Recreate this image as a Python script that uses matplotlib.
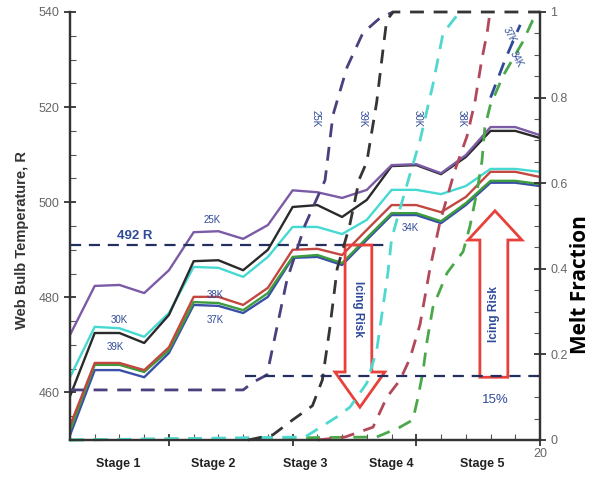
import matplotlib.pyplot as plt
from matplotlib.patches import Polygon

plt.rcParams['font.family'] = ['Liberation Sans', 'DejaVu Sans']

# wet bulb temperature (R) per station, one series per line colour
station = list(range(1, 21))
wb_purple = [472.1, 482.4, 482.6, 480.9, 485.7, 493.7, 493.9, 492.3, 495.2, 502.5,
             502.1, 500.9, 502.6, 507.8, 508.0, 506.1, 509.9, 515.8, 515.8, 514.1]
wb_black = [459.2, 472.5, 472.5, 470.4, 476.3, 487.6, 487.8, 485.7, 490.0, 499.0,
            499.4, 496.9, 500.5, 507.6, 507.8, 505.9, 509.5, 515.0, 515.0, 513.5]
wb_cyan = [463.2, 473.8, 473.5, 471.7, 476.7, 486.4, 486.2, 484.3, 488.5, 494.8,
           494.8, 493.3, 496.3, 502.6, 502.6, 501.7, 503.4, 507.0, 507.0, 506.4]
wb_red = [453.0, 466.2, 466.2, 464.7, 469.5, 480.1, 480.1, 478.4, 482.0, 490.0,
          490.2, 488.9, 494.2, 499.4, 499.4, 497.9, 501.1, 506.4, 506.4, 505.3]
wb_green = [452.0, 465.8, 465.8, 464.3, 468.9, 479.0, 478.8, 477.3, 480.9, 488.5,
            488.9, 487.2, 492.5, 497.7, 497.7, 496.0, 499.8, 504.5, 504.5, 503.8]
wb_blue = [451.0, 464.7, 464.7, 463.2, 468.3, 478.4, 478.2, 476.7, 480.1, 488.3,
           488.5, 486.8, 492.1, 497.3, 497.3, 495.6, 499.4, 504.1, 504.1, 503.4]

# melt fraction curves (dashed)
mf_purple_x = [1, 8.0, 8.4, 8.96, 9.77, 10.5, 11.31, 11.63, 12.2, 12.84, 13.53, 14.06]
mf_purple = [0.117, 0.117, 0.135, 0.152, 0.374, 0.502, 0.607, 0.759, 0.871, 0.951, 0.986, 1.0]
mf_black_x = [8.2, 9.2, 10.0, 10.8, 11.2, 11.5, 11.8, 12.3, 12.7, 13.0, 13.4, 13.65, 13.8, 14.06, 20]
mf_black = [0.0, 0.012, 0.047, 0.08, 0.14, 0.26, 0.40, 0.50, 0.61, 0.65, 0.79, 0.91, 0.98, 1.0, 1.0]
mf_cyan_x = [1, 10.5, 11.79, 12.32, 13.0, 13.4, 13.65, 13.85, 14.0, 14.34, 14.74, 15.15, 15.67,
             16.08, 16.48, 16.76]
mf_cyan = [0.0, 0.007, 0.054, 0.077, 0.133, 0.21, 0.31, 0.39, 0.47, 0.54, 0.62, 0.70, 0.83,
           0.95, 0.98, 1.0]
mf_red_x = [11.0, 12.12, 13.25, 13.81, 14.34, 14.74, 15.15, 15.55, 15.96, 16.56, 17.05, 17.37,
            17.65, 17.86, 17.98]
mf_red = [0.0, 0.007, 0.03, 0.10, 0.14, 0.19, 0.27, 0.40, 0.51, 0.63, 0.71, 0.79, 0.89, 0.95, 1.0]
mf_green_x = [1, 13.4, 14.34, 14.86, 15.07, 15.27, 15.43, 15.67, 16.24, 16.89, 17.17, 17.45,
              17.65, 17.77, 17.98, 18.5, 18.9, 19.3, 19.7, 20]
mf_green = [0.0, 0.007, 0.03, 0.047, 0.10, 0.16, 0.23, 0.31, 0.39, 0.44, 0.50, 0.58, 0.65,
            0.73, 0.78, 0.85, 0.89, 0.93, 0.98, 1.0]
mf_blue_x = [18.0, 18.6, 19.2]
mf_blue = [0.80, 0.89, 0.97]

freeze_T = 491.0          # "492 R" line
freeze_x = [1, 14]
risk_mf = 0.15            # "15%" line
risk_x = [8.07, 20]

stage_names = ['Stage 1', 'Stage 2', 'Stage 3', 'Stage 4', 'Stage 5']
stage_pos = [2.94, 6.78, 10.5, 14.0, 17.65]

navy = '#2f4a99'
arrow_red = '#e8403a'

fig = plt.figure(figsize=(5.97, 4.79), dpi=100)
ax = fig.add_axes([70 / 597, 39 / 479, 470 / 597, 428 / 479])
ax2 = ax.twinx()

lw = 1.7
ax.plot(station, wb_blue, color='#3a4fa8', lw=lw)
ax.plot(station, wb_green, color='#3d9c3d', lw=lw)
ax.plot(station, wb_red, color='#c4473f', lw=lw)
ax.plot(station, wb_cyan, color='#45d9d2', lw=lw)
ax.plot(station, wb_black, color='#2a2a2a', lw=lw)
ax.plot(station, wb_purple, color='#7b5aa6', lw=lw)

ax.plot(freeze_x, [freeze_T, freeze_T], color='#23305f', lw=1.6, ls=(0, (5, 3.5)))

dash = (0, (5, 3.5))
ax2.plot(mf_green_x, mf_green, color='#4aa84a', lw=2, ls=dash, clip_on=False)
ax2.plot(mf_blue_x, mf_blue, color=navy, lw=2, ls=dash)
ax2.plot(mf_cyan_x, mf_cyan, color='#4fd8cf', lw=2, ls=dash, clip_on=False)
ax2.plot(mf_red_x, mf_red, color='#b3485a', lw=2, ls=dash, clip_on=False)
ax2.plot(mf_purple_x, mf_purple, color='#4b3f7e', lw=2, ls=dash, clip_on=False)
ax2.plot(mf_black_x, mf_black, color='#353535', lw=2, ls=dash, clip_on=False)
ax2.plot(risk_x, [risk_mf, risk_mf], color='#23305f', lw=1.6, ls=dash)

# icing risk arrows (hollow, red outline)
down_arrow = [(12.12, 491.0), (13.2, 491.0), (13.2, 464.3), (13.73, 464.3),
              (12.72, 456.9), (11.71, 464.3), (12.12, 464.3)]
up_arrow = [(17.57, 463.2), (18.7, 463.2), (18.7, 492.05), (19.27, 492.05),
            (18.18, 498.2), (17.09, 492.05), (17.57, 492.05)]
for pts in (down_arrow, up_arrow):
    ax.add_patch(Polygon(pts, closed=True, fill=False, edgecolor=arrow_red, lw=2, zorder=5))
ax.text(12.66, 477.5, 'Icing Risk', rotation=-90, color=navy, fontsize=8.5,
        ha='center', va='center', fontweight='bold')
ax.text(18.14, 476.5, 'Icing Risk', rotation=90, color=navy, fontsize=8.5,
        ha='center', va='center', fontweight='bold')

# labels on lines
ax.text(3.63, 492.9, '492 R', color=navy, fontsize=9.5, ha='center', va='center', fontweight='bold')
small = dict(color=navy, fontsize=7, ha='center', va='center')
ax.text(6.74, 496.3, '25K', **small)
ax.text(3.0, 475.2, '30K', **small)
ax.text(2.82, 469.5, '39K', **small)
ax.text(6.86, 480.5, '38K', **small)
ax.text(6.86, 475.2, '37K', **small)
ax.text(14.74, 494.6, '34K', **small)
ax2.text(10.94, 0.75, '25K', rotation=-90, **small)
ax2.text(12.85, 0.75, '39K', rotation=-90, **small)
ax2.text(15.05, 0.75, '30K', rotation=-90, **small)
ax2.text(16.85, 0.75, '38K', rotation=-90, **small)
ax2.text(18.75, 0.945, '37K', rotation=-62, **small)
ax2.text(19.05, 0.89, '34K', rotation=-62, **small)
ax2.text(18.2, 0.093, '15%', color=navy, fontsize=9.5, ha='center', va='center')

# axes
ax.set_xlim(1, 20)
ax.set_ylim(450, 540)
ax2.set_ylim(0, 1)
ax.set_yticks([460, 480, 500, 520, 540])
ax.set_yticks(range(450, 541, 5), minor=True)
ax2.set_yticks([0, 0.2, 0.4, 0.6, 0.8, 1])
ax2.set_yticklabels(['0', '0.2', '0.4', '0.6', '0.8', '1'])
ax2.set_yticks([i / 20 for i in range(21)], minor=True)
ax.set_xticks([5, 10, 15, 20])
ax.set_xticklabels(['', '', '', '20'])
ax.set_xticks(station, minor=True)

for a in (ax, ax2):
    a.spines['top'].set_visible(False)
    for s in a.spines.values():
        s.set_color('#333333')
        s.set_linewidth(1.6)
    a.tick_params(which='major', direction='inout', length=8, width=1.3, color='#333333',
                  labelsize=9, labelcolor='#666666')
    a.tick_params(which='minor', direction='in', length=4, width=0.8, color='#555555')
ax.tick_params(axis='x', which='major', pad=2)

for name, pos in zip(stage_names, stage_pos):
    ax.text(pos, 446.2, name, ha='center', va='top', fontsize=9, fontweight='bold',
            color='#222222')

fig.text(22 / 597, 1 - 240 / 479, 'Web Bulb Temperature, R', rotation=90, ha='center',
         va='center', fontsize=10.5, fontweight='bold', color='#333333')
fig.text(580 / 597, 1 - 285 / 479, 'Melt Fraction', rotation=90, ha='center', va='center',
         fontsize=15, fontweight='bold', color='black', family=['Open Sans', 'DejaVu Sans'])

fig.savefig('out.png', dpi=100)
